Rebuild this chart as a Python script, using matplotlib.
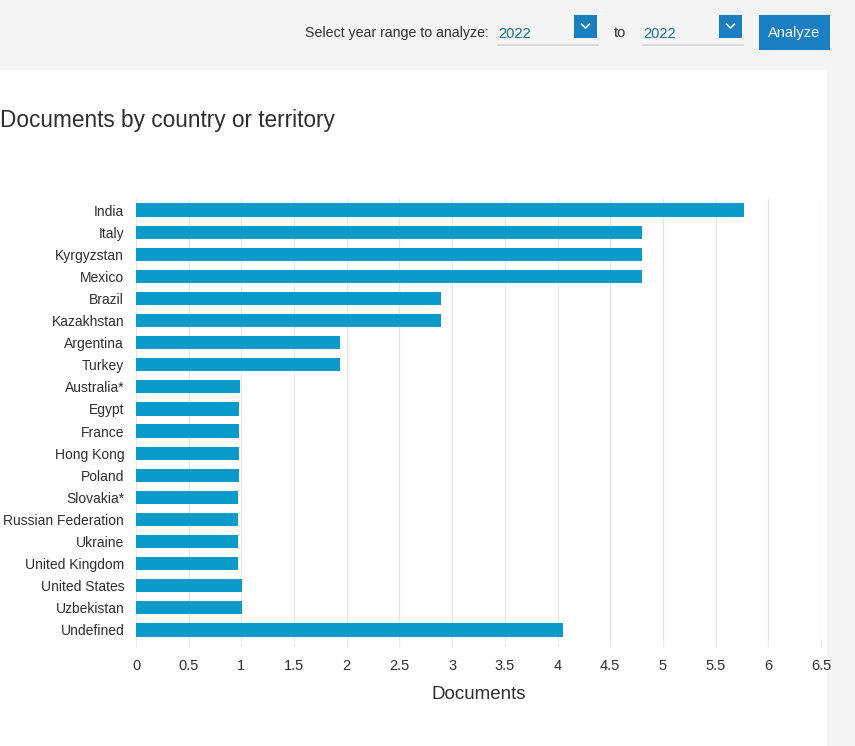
import matplotlib.pyplot as plt
from matplotlib.patches import Rectangle
import numpy as np

# data
countries = ['India', 'Italy', 'Kyrgyzstan', 'Mexico', 'Brazil', 'Kazakhstan',
             'Argentina', 'Turkey', 'Australia*', 'Egypt', 'France', 'Hong Kong',
             'Poland', 'Slovakia*', 'Russian Federation', 'Ukraine',
             'United Kingdom', 'United States', 'Uzbekistan', 'Undefined']
documents = [5.77, 4.8, 4.8, 4.8, 2.89, 2.89,
             1.94, 1.94, 0.99, 0.98, 0.98, 0.98,
             0.98, 0.97, 0.97, 0.97,
             0.97, 1.01, 1.01, 4.05]
xticks = [0, 0.5, 1, 1.5, 2, 2.5, 3, 3.5, 4, 4.5, 5, 5.5, 6, 6.5]

W, H = 855, 746
plt.rcParams['font.family'] = ['Liberation Sans', 'DejaVu Sans']
txt = '#2e2e2e'

fig = plt.figure(figsize=(W / 100, H / 100), dpi=100)
fig.patch.set_facecolor('white')

def fx(x):
    return x / W

def fy(y):
    return 1 - y / H

# background bands
fig.add_artist(Rectangle((0, fy(70)), 1, 70 / H, transform=fig.transFigure,
                         facecolor='#f4f4f4', edgecolor='none', zorder=0))
fig.add_artist(Rectangle((fx(827), 0), 28 / W, fy(70), transform=fig.transFigure,
                         facecolor='#f4f4f4', edgecolor='none', zorder=0))

# header controls
fig.text(fx(489), fy(33), 'Select year range to analyze:', ha='right', va='center',
         fontsize=10.2, color=txt)
for x0 in [498, 643]:
    fig.text(fx(x0), fy(34), '2022', ha='left', va='center', fontsize=10.5, color='#1b6f94')
    fig.add_artist(plt.Line2D([fx(x0), fx(x0 + 100)], [fy(45), fy(45)],
                              transform=fig.transFigure, color='#d5d5d5', lw=1.2))
    bx = x0 + 76
    fig.add_artist(Rectangle((fx(bx), fy(38)), 23 / W, 23 / H, transform=fig.transFigure,
                             facecolor='#1a7fc1', edgecolor='none'))
    fig.add_artist(plt.Line2D([fx(bx + 7.5), fx(bx + 11.5), fx(bx + 15.5)],
                              [fy(24), fy(28), fy(24)], transform=fig.transFigure,
                              color='white', lw=1.1))
fig.text(fx(620), fy(33), 'to', ha='center', va='center', fontsize=10.5, color=txt)
fig.add_artist(Rectangle((fx(759), fy(50)), 71 / W, 35 / H, transform=fig.transFigure,
                         facecolor='#1a7fc1', edgecolor='none'))
fig.text(fx(794.5), fy(32.5), 'Analyze', ha='center', va='center', fontsize=10.5,
         color='white')

fig.text(fx(0), fy(121), 'Documents by country or territory', ha='left', va='center',
         fontsize=16.3, color=txt)

# chart
ax = fig.add_axes([fx(136), fy(641), (821 - 136) / W, (641 - 199) / H])
y = np.arange(len(countries))
ax.barh(y, documents, height=0.6, color='#0c9acb', zorder=3)
ax.set_ylim(len(countries) - 0.5, -0.5)
ax.set_xlim(0, 6.5)
ax.set_yticks(y)
ax.set_yticklabels(countries, fontsize=10, color=txt)
ax.set_xticks(xticks)
ax.set_xticklabels([f'{t:g}' for t in xticks], fontsize=10.5, color=txt)
ax.tick_params(axis='y', length=0, pad=8.5)
ax.tick_params(axis='x', length=4, color='#e6e6e6', pad=9)
ax.grid(axis='x', color='#e6e6e6', lw=1, zorder=0)
for s in ax.spines.values():
    s.set_visible(False)
ax.set_xlabel('Documents', fontsize=13.5, color=txt, labelpad=9)

fig.savefig('out.png', dpi=100)
